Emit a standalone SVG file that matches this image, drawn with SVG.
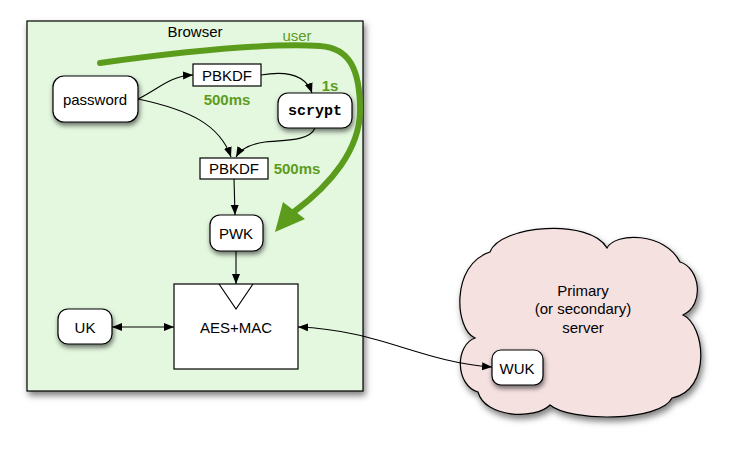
<svg xmlns="http://www.w3.org/2000/svg" width="739" height="457" viewBox="0 0 739 457">
<defs>
<filter id="sh" x="-20%" y="-20%" width="150%" height="160%"><feDropShadow dx="1" dy="3" stdDeviation="2.5" flood-color="#000" flood-opacity="0.55"/></filter>
<filter id="shb" x="-5%" y="-5%" width="112%" height="112%"><feDropShadow dx="2" dy="4" stdDeviation="3" flood-color="#000" flood-opacity="0.5"/></filter>
<marker id="ah" viewBox="0 0 10 10" refX="10" refY="5" markerWidth="10" markerHeight="10" markerUnits="userSpaceOnUse" orient="auto-start-reverse"><path d="M0,1 L10,5 L0,9 Z" fill="#000"/></marker>
</defs>
<style>
.t{font-family:"Liberation Sans",Arial,sans-serif;font-size:15px;fill:#000;text-anchor:middle;dominant-baseline:central}
.g{font-family:"Liberation Sans",Arial,sans-serif;font-size:15px;fill:#5c9c1c;font-weight:bold;text-anchor:middle;dominant-baseline:central}
.m{font-family:"Liberation Mono","Courier New",monospace;font-size:15px;font-weight:bold;text-anchor:middle;dominant-baseline:central}
.rn{fill:#fff;stroke:#000;stroke-width:1.2;filter:url(#sh)}
.sq{fill:#fff;stroke:#000;stroke-width:1.2}
.c{fill:none;stroke:#000;stroke-width:1.1;marker-end:url(#ah)}
</style>
<g id="browser">
<rect x="27" y="21" width="336" height="370" fill="#e4f8df" stroke="#000" stroke-width="1.2" filter="url(#shb)"/>
<text class="t" x="195" y="31">Browser</text>
</g>
<g id="server">
<path d="M475,338 C455,330 450,265 490,252 C500,225 590,218 607,248 C615,232 665,232 680,262 C700,268 705,305 683,315 C705,325 712,390 672,398 C660,422 570,422 550,405 C535,420 485,418 478,392 C455,385 455,345 475,338 Z" fill="#f6e1e1" stroke="#000" stroke-width="1.2" filter="url(#shb)"/>
<text class="t" x="583" y="290">Primary</text>
<text class="t" x="583" y="308">(or secondary)</text>
<text class="t" x="583" y="327">server</text>
</g>
<g id="password"><rect class="rn" x="53" y="76" width="85" height="46" rx="11"/><text class="t" x="95" y="99">password</text></g>
<g id="pbkdf1"><rect class="sq" x="193" y="64" width="68" height="22"/><text class="t" x="227" y="75">PBKDF</text><text class="g" x="227" y="99">500ms</text></g>
<g id="scrypt"><rect class="rn" x="278" y="93" width="74" height="35" rx="10"/><text class="m" x="315" y="111">scrypt</text><text class="g" x="330" y="85">1s</text></g>
<g id="pbkdf2"><rect class="sq" x="200" y="158" width="68" height="21"/><text class="t" x="234" y="168">PBKDF</text><text class="g" x="297" y="168">500ms</text></g>
<g id="pwk"><rect class="rn" x="210" y="215" width="53" height="36" rx="10"/><text class="t" x="236" y="233">PWK</text></g>
<g id="aes"><rect class="sq" x="174" y="284" width="124" height="85"/><path d="M219,284 L236,309 L253,284" fill="none" stroke="#000" stroke-width="1.2"/><text class="t" x="236" y="327">AES+MAC</text></g>
<g id="uk"><rect class="rn" x="58" y="309" width="54" height="35" rx="10"/><text class="t" x="85" y="327">UK</text></g>
<g id="wuk"><rect class="rn" x="492" y="350" width="51" height="35" rx="9"/><text class="t" x="517" y="368">WUK</text></g>
<g id="connectors">
<path class="c" d="M138,99 C160,88 170,76 193,75"/>
<path class="c" d="M261,75 C290,70 306,76 312,93"/>
<path class="c" d="M138,99 C190,110 220,125 231,157"/>
<path class="c" d="M315,128 C310,140 290,140 265,142 C250,144 240,150 236,157"/>
<path class="c" d="M234,179 L235,215"/>
<path class="c" d="M236,251 L236,284"/>
<path class="c" d="M112,327 L174,327" marker-start="url(#ah)"/>
<path class="c" d="M298,327 C380,330 420,362 492,367" marker-start="url(#ah)"/>
</g>
<g id="user">
<path d="M100,63 C180,52 270,43 320,46 C350,48 360,70 360,110 C360,150 330,185 295,211" fill="none" stroke="#5c9c1c" stroke-width="6" stroke-linecap="round"/>
<polygon points="275,232 283,202 305,219" fill="#5c9c1c"/>
<text x="297" y="35" font-family="Liberation Sans,Arial,sans-serif" font-size="15" fill="#5c9c1c" text-anchor="middle" dominant-baseline="central">user</text>
</g>
</svg>
